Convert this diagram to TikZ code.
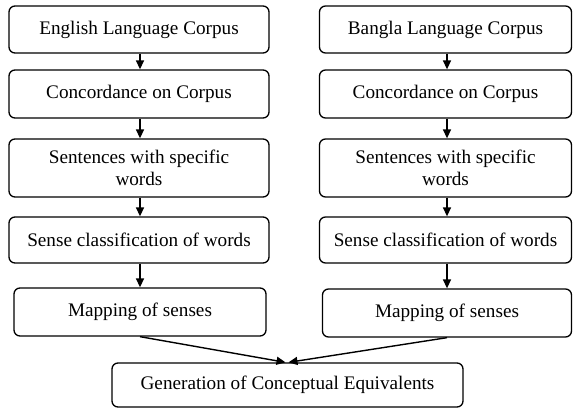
\documentclass[tikz,border=0pt]{standalone}
\usepackage{fontspec}
\setmainfont{Liberation Serif}
\usetikzlibrary{arrows.meta}
\begin{document}
\begin{tikzpicture}[x=1pt,y=-1pt,
  box/.style={draw, line width=1.3pt, rounded corners=6pt, align=center, inner sep=0pt,
    font=\fontsize{19.2}{22}\selectfont},
  arr/.style={line width=1.4pt, -{Triangle[length=9pt,width=8pt]}}]
\useasboundingbox (0,0) rectangle (573,408);
% left column
\node[box, minimum width=260pt, minimum height=47pt] (L1) at (139,29.5) {English Language Corpus};
\node[box, minimum width=260pt, minimum height=48pt] (L2) at (139,94) {Concordance on Corpus};
\node[box, minimum width=260pt, minimum height=58pt] (L3) at (139,168) {Sentences with specific\\words};
\node[box, minimum width=260pt, minimum height=46pt] (L4) at (139,240) {Sense classification of words};
\node[box, minimum width=252pt, minimum height=48pt] (L5) at (140,312) {Mapping of senses};
% right column
\node[box, minimum width=252pt, minimum height=47pt] (R1) at (445.5,29.5) {Bangla Language Corpus};
\node[box, minimum width=252pt, minimum height=48pt] (R2) at (445.5,94) {Concordance on Corpus};
\node[box, minimum width=252pt, minimum height=58pt] (R3) at (445.5,168) {Sentences with specific\\words};
\node[box, minimum width=252pt, minimum height=46pt] (R4) at (445.5,240) {Sense classification of words};
\node[box, minimum width=249pt, minimum height=48pt] (R5) at (447,313) {Mapping of senses};
% bottom
\node[box, minimum width=351pt, minimum height=44pt] (G) at (287.5,385) {Generation of Conceptual Equivalents};
% arrows
\draw[arr] (L1.south -| 140,0) -- (L2.north -| 140,0);
\draw[arr] (L2.south -| 140,0) -- (L3.north -| 140,0);
\draw[arr] (L3.south -| 140,0) -- (L4.north -| 140,0);
\draw[arr] (L4.south -| 140,0) -- (L5.north);
\draw[arr] (R1.south -| 447,0) -- (R2.north -| 447,0);
\draw[arr] (R2.south -| 447,0) -- (R3.north -| 447,0);
\draw[arr] (R3.south -| 447,0) -- (R4.north -| 447,0);
\draw[arr] (R4.south -| 447,0) -- (R5.north);
\draw[arr] (L5.south) -- ([xshift=-2pt]G.north);
\draw[arr] (R5.south) -- ([xshift=1pt]G.north);
\end{tikzpicture}
\end{document}
